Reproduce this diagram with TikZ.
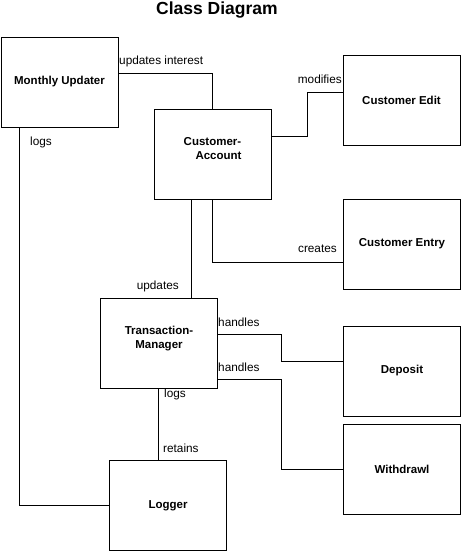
\documentclass[tikz,border=0pt]{standalone}
\usepackage{fontspec}
\setmainfont{Liberation Sans}
\begin{document}
\begin{tikzpicture}[x=1pt,y=-1pt,
  box/.style={draw,line width=1pt,minimum width=117pt,minimum height=90pt,inner sep=0pt},
  boxtext/.style={font=\fontsize{11.5}{14}\selectfont\bfseries,align=center,inner sep=0pt},
  lbl/.style={font=\fontsize{11.8}{14}\selectfont,inner sep=0pt},
  conn/.style={line width=1pt}]
\useasboundingbox (0,0) rectangle (463,554);
\node[font=\fontsize{17.5}{20}\selectfont\bfseries,inner sep=0pt] (title) at (217,10) {Class Diagram};
% boxes
\node[box] (mu) at (59.5,82) {};
\node[box] (ca) at (212.5,154) {};
\node[box] (ce) at (401.5,100) {};
\node[box] (cen) at (402,244) {};
\node[box] (tm) at (159,343) {};
\node[box] (dep) at (402,371) {};
\node[box] (wd) at (402,469) {};
\node[box] (log) at (168,505.5) {};
% box texts
\node[boxtext] (mut) at (mu.center) {Monthly Updater};
\node[boxtext] (cat) at ([yshift=5pt]ca.center) {Customer-\\\hspace*{12pt}Account};
\node[boxtext] (cet) at (ce.center) {Customer Edit};
\node[boxtext] (cent) at (cen.center) {Customer Entry};
\node[boxtext] (tmt) at ([yshift=4.5pt]tm.center) {Transaction-\\Manager};
\node[boxtext] (dept) at (dep.center) {Deposit};
\node[boxtext] (wdt) at (wd.center) {Withdrawl};
\node[boxtext] (logt) at (log.center) {Logger};
% connectors
\draw[conn] ([yshift=9pt]mu.east) -| (ca.north);
\draw[conn] ([yshift=18pt]ca.east) -- ++(36,0) |- ([yshift=8pt]ce.west);
\draw[conn] (ca.south) |- ([yshift=-18pt]cen.west);
\draw[conn] ([xshift=-21.5pt]ca.south) -- ([xshift=-21.5pt]ca.south |- tm.north);
\draw[conn] ([yshift=9pt]tm.east) -- ++(63,0) |- ([yshift=10pt]dep.west);
\draw[conn] ([yshift=-36pt]tm.east) -- ++(63,0) |- (wd.west);
\draw[conn] ([xshift=-1pt]tm.south) -- ([xshift=-1pt]tm.south |- log.north);
\draw[conn] ([xshift=-40.5pt]mu.south) |- (log.west);
% labels
\node[lbl,anchor=west] (l1) at (119,61) {updates interest};
\node[lbl,anchor=east] (l2) at (342,79) {modifies};
\node[lbl,anchor=west] (l3) at (30,142) {logs};
\node[lbl,anchor=east] (l4) at (337,249) {creates};
\node[lbl,anchor=east] (l5) at (179,286) {updates};
\node[lbl,anchor=west] (l6) at (218,322) {handles};
\node[lbl,anchor=west] (l7) at (218,367) {handles};
\node[lbl,anchor=west] (l8) at (164,394) {logs};
\node[lbl,anchor=west] (l9) at (163,448) {retains};
\end{tikzpicture}
\end{document}
